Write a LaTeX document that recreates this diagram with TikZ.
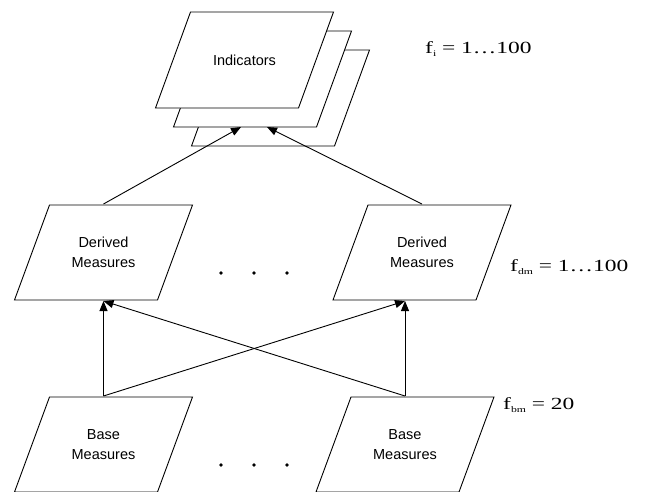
\documentclass[tikz,border=0pt]{standalone}
\usepackage{fontspec}
\setmainfont{Liberation Serif}
\setsansfont{Liberation Sans}
\usetikzlibrary{arrows.meta}

\tikzset{
  measure/.style={minimum width=180pt, minimum height=97pt,
    inner sep=0pt, outer sep=0pt, align=center,
    font=\sffamily\fontsize{14.5}{20}\selectfont,
    path picture={
      \draw[fill=white, line width=0.9pt]
        ([shift={(36pt,-1pt)}]path picture bounding box.north west)
        -- ([shift={(-1pt,-1pt)}]path picture bounding box.north east)
        -- ([shift={(-36pt,1pt)}]path picture bounding box.south east)
        -- ([shift={(1pt,1pt)}]path picture bounding box.south west) -- cycle;
    }},
  link/.style={line width=0.9pt, -{Triangle[length=10pt,width=8pt]}},
  count/.style={anchor=base west, inner sep=0pt, font=\fontsize{17}{19}\selectfont}
}
\newcommand{\fsub}[1]{f\raisebox{-0.5ex}{\fontsize{8.5}{9}\selectfont #1}}

\begin{document}
\begin{tikzpicture}[x=1pt, y=-1pt]
  \useasboundingbox (0,0) rectangle (649,491);

  % indicator stack
  \node[measure, minimum height=98pt] (ind3) at (280.5,98) {};
  \node[measure, minimum height=98pt] (ind2) at (262.5,79) {};
  \node[measure, minimum height=98pt] (ind) at (244.5,60) {Indicators};

  % measures
  \node[measure] (dl) at (103.5,252.5) {Derived\\Measures};
  \node[measure] (dr) at (422,252.5) {Derived\\Measures};
  \node[measure] (bl) at (103.5,444.5) {Base\\Measures};
  \node[measure] (br) at (405,444.5) {Base\\Measures};

  \coordinate (inL) at (241,127);
  \coordinate (inR) at (267,127);

  % connectors
  \draw[link] (dl.north) -- (inL);
  \draw[link] (dr.north) -- (inR);
  \draw[link] (bl.north) -- (dl.south);
  \draw[link] (br.north) -- (br.center |- dr.south);
  \draw[link] (bl.north) -- (br.center |- dr.south);
  \draw[link] (br.north) -- (dl.south);

  % dots
  \foreach \y in {273,465}
    \foreach \x in {221,254,287}
      \fill (\x,\y) circle (1.9pt);

  % counts
  \node[count] (fi) at (425,53) {\scalebox{1.38}[1]{\fsub{i} = 1…100}};
  \node[count] (fdm) at (510,271) {\scalebox{1.38}[1]{\fsub{dm} = 1…100}};
  \node[count] (fbm) at (503,409) {\scalebox{1.38}[1]{\fsub{bm} = 20}};
\end{tikzpicture}
\end{document}
